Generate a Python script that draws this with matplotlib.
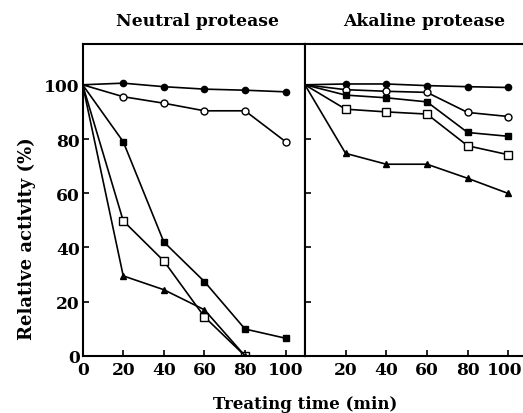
import matplotlib.pyplot as plt
import matplotlib.transforms as mtransforms

time = [0, 20, 40, 60, 80, 100]

# Neutral protease
n_fcircle = [100, 100.6, 99.3, 98.4, 98.0, 97.4]
n_ocircle = [100, 95.6, 93.2, 90.4, 90.4, 79.0]
n_fsquare = [100, 79.0, 42.0, 27.4, 9.9, 6.5]
n_osquare = [100, 49.8, 35.0, 14.4, 0]
n_triangle = [100, 29.5, 24.4, 17.0, 0]

# Akaline protease
a_fcircle = [100, 100.3, 100.3, 99.7, 99.3, 99.0]
a_ocircle = [100, 98.2, 97.6, 97.2, 89.8, 88.3]
a_fsquare = [100, 96.2, 95.2, 93.7, 82.4, 81.0]
a_osquare = [100, 91.0, 90.0, 89.2, 77.5, 74.2]
a_triangle = [100, 74.7, 70.7, 70.7, 65.5, 59.9]

plt.rcParams['font.family'] = ['DejaVu Serif']
plt.rcParams['font.weight'] = 'bold'

fig = plt.figure(figsize=(5.23, 4.14), dpi=100)
ax1 = fig.add_axes([0.158, 0.138, 0.425, 0.753])
ax2 = fig.add_axes([0.583, 0.138, 0.422, 0.753])


def draw(ax, fc, oc, fs, os_, tri):
    kw = dict(color='black', linewidth=1.2, markevery=slice(1, None))
    ax.plot(time[:len(fc)], fc, marker='o', markersize=4.5, mfc='black', **kw)
    ax.plot(time[:len(oc)], oc, marker='o', markersize=5, mfc='white', **kw)
    ax.plot(time[:len(fs)], fs, marker='s', markersize=5, mfc='black', **kw)
    ax.plot(time[:len(os_)], os_, marker='s', markersize=6, mfc='white', **kw)
    ax.plot(time[:len(tri)], tri, marker='^', markersize=5, mfc='black', **kw)
    ax.set_ylim(0, 115)
    ax.set_yticks([0, 20, 40, 60, 80, 100])
    ax.tick_params(direction='in', length=4, width=1.2, labelsize=12.3)
    for s in ax.spines.values():
        s.set_linewidth(1.5)


draw(ax1, n_fcircle, n_ocircle, n_fsquare, n_osquare, n_triangle)
draw(ax2, a_fcircle, a_ocircle, a_fsquare, a_osquare, a_triangle)

ax1.set_xlim(0, 109.5)
ax1.set_xticks(time)
ax1.tick_params(axis='x', pad=4)
ax1.tick_params(axis='y', pad=2)
ax1.set_yticklabels(['0', '20', '40', '60', '80', '100'])
for lbl in ax1.get_xticklabels() + ax1.get_yticklabels():
    lbl.set_fontweight('bold')

ax2.set_xlim(0, 108.5)
ax2.set_xticks(time)
ax2.set_xticklabels(['', '20', '40', '60', '80', '100'])
ax2.tick_params(axis='x', pad=4)
ax2.set_yticklabels([])
ax2.spines['right'].set_visible(False)
for lbl in ax2.get_xticklabels():
    lbl.set_fontweight('bold')
# keep the last label inside the picture edge
last = ax2.get_xticklabels()[-1]
last.set_transform(last.get_transform() +
                   mtransforms.ScaledTranslation(-4 / 100, 0, fig.dpi_scale_trans))

fig.text(0.377, 0.948, 'Neutral protease', fontsize=12.3, fontweight='bold',
         ha='center', va='center')
fig.text(0.811, 0.948, 'Akaline protease', fontsize=12.3, fontweight='bold',
         ha='center', va='center')
ax1.set_ylabel('Relative activity (%)', fontsize=13, fontweight='bold',
               va='center')
ax1.yaxis.set_label_coords(-0.252, 0.38)
fig.text(0.583, 0.022, 'Treating time (min)', fontsize=12, fontweight='bold',
         ha='center', va='center')

fig.savefig('out.png', dpi=100)
